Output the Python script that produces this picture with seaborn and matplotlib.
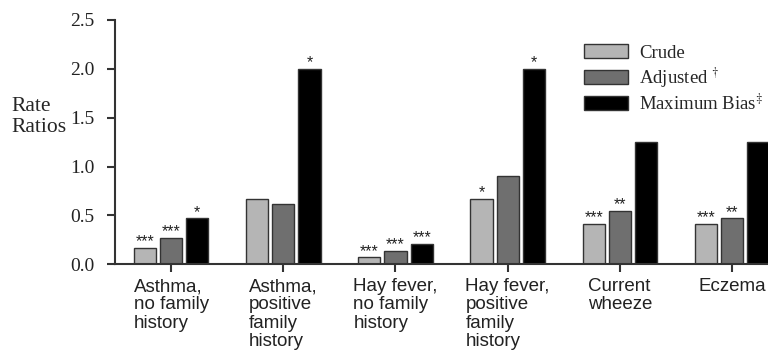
import pandas as pd
import matplotlib.pyplot as plt
import seaborn as sns
from matplotlib.patches import Patch

# Данные
conditions = [
    "Asthma,\nno family\nhistory",
    "Asthma,\npositive\nfamily\nhistory",
    "Hay fever,\nno family\nhistory",
    "Hay fever,\npositive\nfamily\nhistory",
    "Current\nwheeze",
    "Eczema",
]
crude = [0.17, 0.67, 0.07, 0.67, 0.41, 0.41]
adjusted = [0.27, 0.62, 0.14, 0.905, 0.55, 0.47]
max_bias = [0.47, 2.0, 0.21, 2.0, 1.25, 1.25]
crude_stars = ["***", "", "***", "*", "***", "***"]
adjusted_stars = ["***", "", "***", "", "**", "**"]
max_bias_stars = ["*", "*", "***", "*", "", ""]

measures = ["Crude", "Adjusted", "Maximum Bias"]
colors = ["#b5b5b5", "#6f6f6f", "#000000"]

df = pd.DataFrame({
    "condition": conditions * 3,
    "value": crude + adjusted + max_bias,
    "measure": [m for m in measures for _ in conditions],
})

sns.set_style("ticks")
plt.rcParams["mathtext.fontset"] = "stix"

fig = plt.figure(figsize=(7.68, 3.56), dpi=100)
ax = fig.add_axes([0.1497, 0.2576, 0.8503, 0.6864])

sns.barplot(
    data=df, x="condition", y="value", hue="measure",
    palette=colors, width=0.7, gap=0.15,
    edgecolor="#333333", linewidth=1.0, ax=ax, legend=False,
)

for cont, stars in zip(ax.containers, [crude_stars, adjusted_stars, max_bias_stars]):
    ax.bar_label(cont, labels=stars, padding=-1, fontsize=11.5,
                 family="Liberation Sans", color="#222222")

ax.set_ylim(0, 2.5)
ax.set_yticks([0, 0.5, 1.0, 1.5, 2.0, 2.5])
ax.set_yticklabels([f"{v:.1f}" for v in [0, 0.5, 1.0, 1.5, 2.0, 2.5]],
                   family="Liberation Serif", fontsize=14)
ax.set_xlim(-0.5, 5.32)
ax.set_xticks(range(len(conditions)))
ax.set_xticklabels(conditions, family="Liberation Sans", fontsize=13.5,
                   linespacing=1.1, multialignment="left")
ax.set_xlabel("")
ax.set_ylabel("Rate\nRatios", rotation=0, family="Liberation Serif",
              fontsize=15.5, ha="left", va="center", linespacing=1.15)
ax.yaxis.set_label_coords(-0.158, 0.603)

for s in ["top", "right"]:
    ax.spines[s].set_visible(False)
for s in ["left", "bottom"]:
    ax.spines[s].set_color("#333333")
    ax.spines[s].set_linewidth(1.5)
ax.tick_params(axis="both", length=6, width=1.5, color="#333333",
               labelcolor="#222222")
ax.tick_params(axis="y", pad=9)
ax.tick_params(axis="x", pad=4)

handles = [Patch(facecolor=c, edgecolor="#333333", linewidth=1.0) for c in colors]
labels = ["Crude", r"Adjusted $^{\dagger}$", r"Maximum Bias$^{\ddagger}$"]
ax.legend(handles, labels, frameon=False, loc="upper left",
          bbox_to_anchor=(0.693, 0.97), prop={"family": "Liberation Serif", "size": 13.5},
          handlelength=2.3, handleheight=0.75, labelspacing=0.2, handletextpad=0.6)

fig.savefig("out.png", dpi=100)
